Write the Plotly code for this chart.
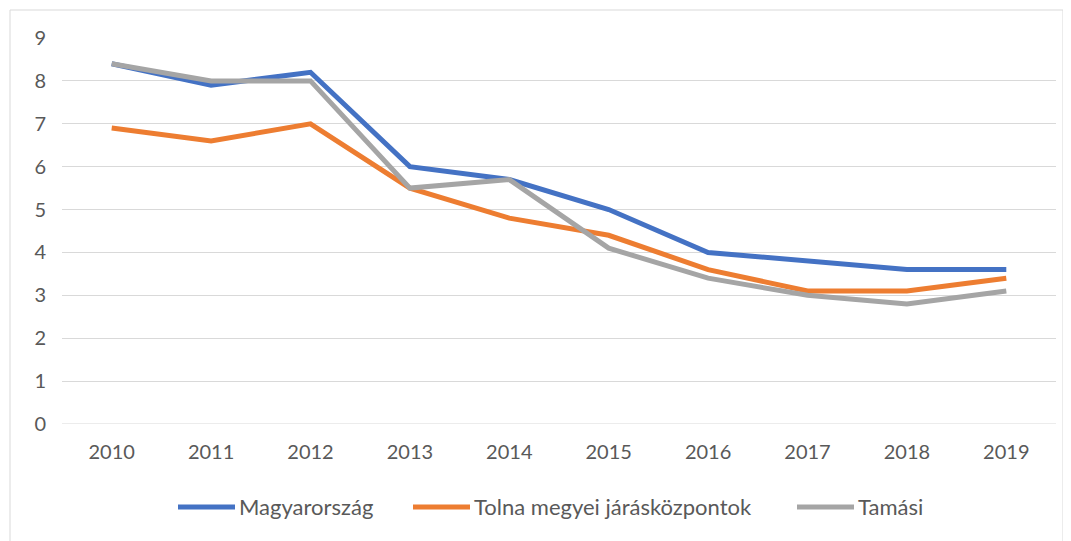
import plotly.graph_objects as go

years = ["2010", "2011", "2012", "2013", "2014", "2015", "2016", "2017", "2018", "2019"]
magyarorszag = [8.4, 7.9, 8.2, 6.0, 5.7, 5.0, 4.0, 3.8, 3.6, 3.6]
tolna = [6.9, 6.6, 7.0, 5.5, 4.8, 4.4, 3.6, 3.1, 3.1, 3.4]
tamasi = [8.4, 8.0, 8.0, 5.5, 5.7, 4.1, 3.4, 3.0, 2.8, 3.1]

series_names = ["Magyarország", "Tolna megyei járásközpontok", "Tamási"]
series_values = [magyarorszag, tolna, tamasi]
series_colors = ["#4472C4", "#ED7D31", "#A5A5A5"]

fig = go.Figure()
for name, vals, color in zip(series_names, series_values, series_colors):
    fig.add_trace(go.Scatter(
        x=years, y=vals, name=name, mode="lines",
        line=dict(color=color, width=5), showlegend=False,
    ))

# page body adds an 8px offset; figure sized to fill the rest of the window
OFF = 8
W, H = 1071 - OFF, 541 - OFF
l, t = 62 - OFF, 38 - OFF
pw, ph = 994, 386
r = W - l - pw
b = H - t - ph


def px(xs):  # screen x -> paper
    return (xs - 62) / pw


def py(ys):  # screen y -> paper
    return (424 - ys) / ph


shapes = [dict(type="rect", xref="paper", yref="paper",
               x0=px(10), x1=px(1063), y0=-0.6, y1=py(10),
               line=dict(color="#D9D9D9", width=1), fillcolor="rgba(0,0,0,0)", layer="below")]
annotations = []

# legend (custom, to match sample length and spacing)
legend_starts = [178, 413, 797]
legend_y = 507
for name, color, x0 in zip(series_names, series_colors, legend_starts):
    shapes.append(dict(type="line", xref="paper", yref="paper",
                       x0=px(x0), x1=px(x0 + 57), y0=py(legend_y), y1=py(legend_y),
                       line=dict(color=color, width=5)))
    annotations.append(dict(xref="paper", yref="paper", x=px(x0 + 59), y=py(legend_y),
                            xanchor="left", yanchor="middle", showarrow=False, text=name,
                            font=dict(size=22, color="#595959")))

fig.update_layout(
    width=W, height=H,
    margin=dict(l=l, r=r, t=t, b=b),
    paper_bgcolor="white", plot_bgcolor="white",
    font=dict(family="Lato, 'Open Sans', sans-serif", size=20, color="#595959"),
    showlegend=False,
    xaxis=dict(type="category", showgrid=False, showline=False, zeroline=False,
               ticks="", tickfont=dict(size=20, color="#595959"), ticklabelstandoff=14,
               range=[-0.5, len(years) - 0.5]),
    yaxis=dict(range=[0, 9], dtick=1, showgrid=True, gridcolor="#D9D9D9", gridwidth=1,
               zeroline=False, showline=False, ticks="", ticklabelstandoff=15,
               tickfont=dict(size=20, color="#595959")),
    shapes=shapes,
    annotations=annotations,
)
fig.add_shape(type="line", xref="paper", yref="y", x0=0, x1=1, y0=0, y1=0,
              line=dict(color="#D9D9D9", width=1), layer="below")

fig.write_html("out.html")
